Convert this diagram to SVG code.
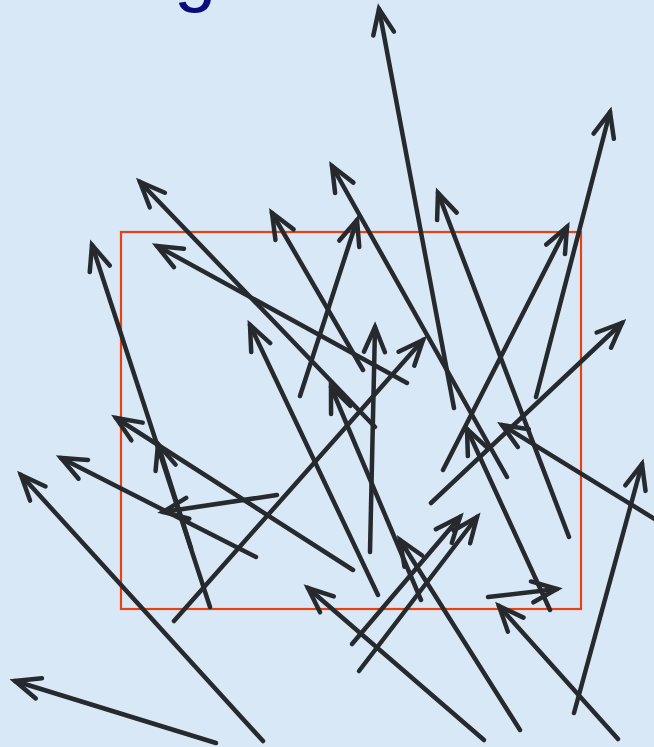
<svg xmlns="http://www.w3.org/2000/svg" width="654" height="747" viewBox="0 0 654 747">
  <style>
    .bg { fill: #d9e8f6; }
    .frame { fill: none; stroke: #e8420e; stroke-width: 2.2; }
    .arr { fill: none; stroke: #262a2e; stroke-width: 4.5; stroke-linecap: round; marker-end: url(#ah); }
    .title { font-family: "Liberation Sans", Arial, sans-serif; font-size: 76px; fill: #0a0a7a; }
  </style>
  <defs>
    <marker id="ah" markerUnits="userSpaceOnUse" markerWidth="60" markerHeight="60" viewBox="-30 -30 60 60" refX="0" refY="0" orient="auto" overflow="visible">
      <path d="M-25,-10.5 L0,0 L-25,10.5" fill="none" stroke="#262a2e" stroke-width="4.5" stroke-linecap="round" stroke-linejoin="miter"/>
    </marker>
  </defs>
  <rect class="bg" x="0" y="0" width="654" height="747"/>
  <g id="title"><text class="title" x="174" y="-3">g</text></g>
  <g id="frame"><rect class="frame" x="121" y="232" width="460" height="377"/></g>
  <g id="connectors">
    <line class="arr" x1="216" y1="743" x2="15" y2="681"/>
    <line class="arr" x1="263" y1="741" x2="21" y2="475"/>
    <line class="arr" x1="256" y1="557" x2="61" y2="458"/>
    <line class="arr" x1="353" y1="570" x2="116" y2="418"/>
    <line class="arr" x1="210" y1="607" x2="92" y2="245"/>
    <line class="arr" x1="191" y1="548" x2="158" y2="444"/>
    <line class="arr" x1="277" y1="495" x2="163" y2="512"/>
    <line class="arr" x1="174" y1="621" x2="423" y2="340"/>
    <line class="arr" x1="300" y1="396" x2="357" y2="220"/>
    <line class="arr" x1="375" y1="427" x2="140" y2="182"/>
    <line class="arr" x1="407" y1="383" x2="157" y2="246"/>
    <line class="arr" x1="370" y1="552" x2="375" y2="327"/>
    <line class="arr" x1="363" y1="370" x2="272" y2="213"/>
    <line class="arr" x1="378" y1="595" x2="250" y2="325"/>
    <line class="arr" x1="421" y1="600" x2="331" y2="387"/>
    <line class="arr" x1="454" y1="408" x2="379" y2="9"/>
    <line class="arr" x1="569" y1="537" x2="438" y2="193"/>
    <line class="arr" x1="536" y1="397" x2="610" y2="112"/>
    <line class="arr" x1="443" y1="470" x2="567" y2="227"/>
    <line class="arr" x1="431" y1="503" x2="622" y2="323"/>
    <line class="arr" x1="658" y1="521" x2="502" y2="425"/>
    <line class="arr" x1="507" y1="477" x2="332" y2="166"/>
    <line class="arr" x1="550" y1="610" x2="467" y2="429"/>
    <line class="arr" x1="488" y1="597" x2="557" y2="589"/>
    <line class="arr" x1="618" y1="739" x2="499" y2="606"/>
    <line class="arr" x1="574" y1="713" x2="642" y2="464"/>
    <line class="arr" x1="352" y1="644" x2="460" y2="517"/>
    <line class="arr" x1="359" y1="671" x2="477" y2="517"/>
    <line class="arr" x1="484" y1="740" x2="308" y2="588"/>
    <line class="arr" x1="520" y1="730" x2="400" y2="540"/>
  </g>
</svg>
